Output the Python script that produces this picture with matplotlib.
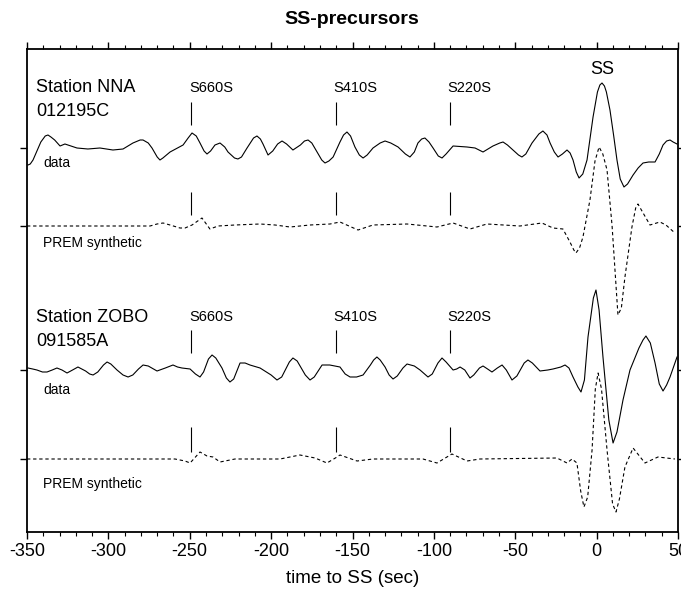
import matplotlib.pyplot as plt
import numpy as np

plt.rcParams['font.family'] = ['Liberation Sans', 'DejaVu Sans']
plt.rcParams['axes.unicode_minus'] = False

# station NNA, recorded trace (time to SS in s, amplitude)
nna_t = [-349.4, -348.0, -346.3, -341.5, -338.8, -337.1, -335.3, -333.0, -329.7, -326.7,
         -319.3, -312.6, -305.2, -297.2, -291.0, -284.9, -280.5, -278.7, -275.5, -273.2,
         -270.0, -268.3, -266.5, -262.1, -254.1, -251.0, -248.6, -246.0, -243.7, -241.2,
         -239.4, -237.2, -234.5, -231.4, -228.5, -226.5, -222.5, -220.4, -218.2, -214.8,
         -210.8, -208.7, -206.6, -205.0, -201.9, -199.0, -196.0, -193.3, -190.5, -186.6,
         -182.0, -179.5, -177.3, -175.0, -171.8, -168.9, -166.9, -164.5, -161.9, -157.7,
         -155.5, -153.4, -151.2, -148.5, -145.8, -143.5, -141.0, -137.4, -133.0, -130.0,
         -126.5, -122.0, -117.5, -114.7, -112.0, -109.8, -107.5, -105.5, -103.0, -100.5,
         -97.3, -95.0, -92.5, -88.2, -79.6, -74.7, -69.8, -63.7, -59.5, -57.5,
         -54.8, -51.4, -48.0, -45.9, -43.5, -39.7, -35.5, -33.0, -30.5, -28.6,
         -26.0, -23.7, -21.0, -18.2, -16.3, -14.5, -12.5, -10.8, -8.5, -5.9,
         -2.2, 0.5, 2.0, 3.3, 4.8, 6.0, 8.2, 10.5, 12.5, 14.5,
         16.8, 19.0, 22.4, 25.5, 28.5, 32.0, 35.9, 38.5, 40.8, 43.0,
         45.1, 47.0, 49.4]
nna_a = [-17, -16, -12, 6, 12, 13, 11, 8, 2, 4,
         0, -1, 0, -2, -1, 5, 8, 8, 5, 0,
         -9, -12, -10, -4, 3, 10, 15, 12, 5, -3,
         -6, -3, 3, 5, 1, -4, -10, -11, -9, 0,
         10, 12, 9, 4, -7, -3, 4, 7, 4, -2,
         3, 7, 8, 5, -4, -12, -15, -13, -9, 6,
         13, 16, 12, 1, -7, -10, -7, 0, 5, 7,
         5, 1, -6, -9, -4, 5, 9, 10, 6, 0,
         -8, -10, -6, 2, 1, 0, -4, 2, 5, 6,
         3, -2, -7, -9, -6, 5, 14, 17, 13, 5,
         -4, -9, -6, -2, -5, -12, -24, -30, -26, -12,
         31, 56, 63, 65, 62, 56, 38, 12, -12, -31,
         -39, -36, -27, -20, -15, -14, -14, -6, 3, 7,
         8, 6, 4]

# station NNA, PREM synthetic
nna_syn_t = [-350.0, -274.4, -270.1, -266.4, -262.1, -256.0, -252.9, -248.6, -242.5, -237.6,
             -232.6, -222.2, -206.8, -197.6, -188.4, -176.1, -163.8, -157.7, -146.6, -137.4,
             -116.5, -98.1, -88.2, -77.8, -67.4, -47.1, -33.6, -26.8, -20.7, -16.4,
             -14.0, -12.7, -10.5, -8.4, -4.1, -1.0, 1.5, 3.8, 6.4, 9.5,
             13.1, 15.2, 17.4, 21.7, 24.0, 25.4, 27.5, 32.8, 38.9, 42.6, 48.1]
nna_syn_a = [0, 0, 2, 3, 1, -2, -2, 1, 8, -3,
             0, 1, 2, 1, -1, 1, 2, 4, -4, 1,
             2, -1, 3, -3, 2, 0, 3, -2, -3, -16,
             -24, -27, -22, -11, 26, 65, 79, 72, 56, 0,
             -89, -82, -51, -1, 18, 22, 16, 1, 4, 1, -7]

# station ZOBO, recorded trace
zobo_t = [-349.4, -346.5, -343.9, -340.5, -337.7, -334.5, -331.6, -328.5, -325.4, -322.0,
          -318.7, -314.0, -311.5, -309.4, -306.5, -303.0, -300.8, -298.5, -294.7, -291.0,
          -287.9, -285.0, -281.5, -278.7, -275.5, -270.1, -265.0, -260.3, -257.5, -254.8,
          -249.8, -246.5, -243.7, -241.5, -238.5, -236.3, -234.0, -230.2, -227.5, -225.3,
          -223.0, -219.1, -216.0, -213.0, -206.8, -200.0, -196.4, -193.5, -188.8, -186.6,
          -184.0, -179.0, -176.1, -173.5, -168.7, -164.0, -157.7, -154.5, -151.5, -147.5,
          -143.5, -139.0, -137.0, -135.0, -133.0, -130.0, -127.5, -125.1, -122.5, -119.0,
          -116.5, -112.0, -108.5, -103.6, -101.0, -97.5, -95.0, -92.5, -88.2, -86.0,
          -83.9, -81.0, -77.8, -75.5, -72.0, -69.8, -67.0, -64.3, -61.0, -58.1,
          -55.5, -52.0, -49.0, -44.5, -42.2, -39.5, -34.8, -30.0, -26.8, -22.0,
          -19.4, -17.0, -14.5, -11.5, -9.6, -7.5, -5.3, -2.0, -0.4, 1.5,
          3.9, 7.5, 10.1, 12.5, 16.2, 20.5, 26.0, 28.5, 30.3, 33.0,
          35.9, 38.5, 40.8, 43.0, 45.1, 49.4]
zobo_a = [2, 1, 0, -2, -2, 0, 2, 0, -3, 0,
          3, -1, -4, -5, -2, 5, 8, 6, 0, -5,
          -7, -5, 1, 5, 4, -1, 2, 5, 3, 2,
          1, -4, -7, -2, 11, 15, 12, 2, -8, -12,
          -9, 7, 7, 5, 2, -5, -10, -7, 8, 12,
          9, -5, -10, -7, 5, 5, 3, -4, -7, -7,
          -5, 5, 10, 13, 10, 3, -5, -9, -6, 2,
          6, 4, 0, -7, -4, 7, 12, 8, 0, 1,
          3, 0, -8, -5, 2, 4, 1, -2, 2, 5,
          0, -10, -6, 7, 10, 7, -1, 0, 1, 3,
          5, 2, -7, -17, -22, -10, 33, 72, 80, 60,
          13, -50, -73, -62, -30, 0, 22, 30, 34, 27,
          7, -14, -21, -15, -7, 13]

# station ZOBO, PREM synthetic
zobo_syn_t = [-350.0, -259.1, -252.9, -249.8, -243.7, -239.4, -235.7, -231.4, -222.2, -194.5,
              -182.3, -173.0, -165.7, -159.5, -157.7, -147.2, -137.4, -106.7, -98.1, -88.9,
              -79.6, -71.7, -24.4, -18.2, -15.1, -12.1, -9.8, -7.8, -5.5, -2.8,
              -0.8, 0.9, 3.0, 6.4, 9.8, 11.9, 14.0, 17.4, 22.4, 29.7, 37.7, 48.1]
zobo_syn_a = [0, 0, -2, -4, 7, 3, 2, -3, 0, 0,
              4, 1, -4, 2, 4, -2, 0, 0, -4, 5,
              -2, 0, 1, -4, 0, -4, -32, -48, -38, 9,
              70, 86, 70, 9, -45, -53, -40, -8, 11, -4, 2, 0]

phases = ['S660S', 'S410S', 'S220S']
phase_t = [-249, -160, -90]

fig = plt.figure(figsize=(6.81, 5.9), dpi=100)
ax = fig.add_axes([27 / 681, 58 / 590, 651 / 681, 483 / 590])

base = [384, 306, 162, 73]
ax.plot(nna_t, np.array(nna_a) + base[0], color='black', lw=0.8)
ax.plot(nna_syn_t, np.array(nna_syn_a) + base[1], color='black', lw=0.8, ls=(0, (3, 2.5)))
ax.plot(zobo_t, np.array(zobo_a) + base[2], color='black', lw=0.8)
ax.plot(zobo_syn_t, np.array(zobo_syn_a) + base[3], color='black', lw=0.8, ls=(0, (3, 2.5)))

# phase markers
ax.vlines(phase_t, 407, 430, color='black', lw=0.8)
ax.vlines(phase_t, 317, 340, color='black', lw=0.8)
ax.vlines(phase_t, 179, 202, color='black', lw=0.8)
ax.vlines(phase_t, 80, 105, color='black', lw=0.8)
for name, t in zip(phases, phase_t):
    ax.text(t - 1.5, 444, name, fontsize=10.5, ha='left', va='center')
    ax.text(t - 1.5, 215, name, fontsize=10.5, ha='left', va='center')
ax.text(3.3, 462, 'SS', fontsize=13, ha='center', va='center')

ax.text(-344.5, 444, 'Station NNA', fontsize=13, va='center')
ax.text(-344.5, 420, '012195C', fontsize=13, va='center')
ax.text(-340.2, 369, 'data', fontsize=10, va='center')
ax.text(-340.2, 289, 'PREM synthetic', fontsize=10, va='center')
ax.text(-344.5, 215, 'Station ZOBO', fontsize=13, va='center')
ax.text(-344.5, 190, '091585A', fontsize=13, va='center')
ax.text(-340.2, 142, 'data', fontsize=10, va='center')
ax.text(-340.2, 48, 'PREM synthetic', fontsize=10, va='center')

ax.set_xlim(-350, 50)
ax.set_ylim(0, 483)
ax.set_xticks(np.arange(-350, 51, 50))
ax.set_xticks(np.arange(-350, 51, 10), minor=True)
ax.set_yticks(base)
ax.set_yticklabels([])
ax.tick_params(axis='x', which='major', direction='out', length=5, width=1, top=True,
               labelsize=13, pad=3)
ax.tick_params(axis='x', which='minor', direction='out', length=3, width=0.8, top=True)
ax.tick_params(axis='y', direction='out', length=5, width=1, right=True)
for s in ax.spines.values():
    s.set_linewidth(1.3)
ax.set_xlabel('time to SS (sec)', fontsize=13.5, labelpad=7)
fig.text(352 / 681, 1 - 20 / 590, 'SS-precursors', fontsize=14, fontweight='bold',
         ha='center', va='center')

fig.savefig('out.png', dpi=100)
